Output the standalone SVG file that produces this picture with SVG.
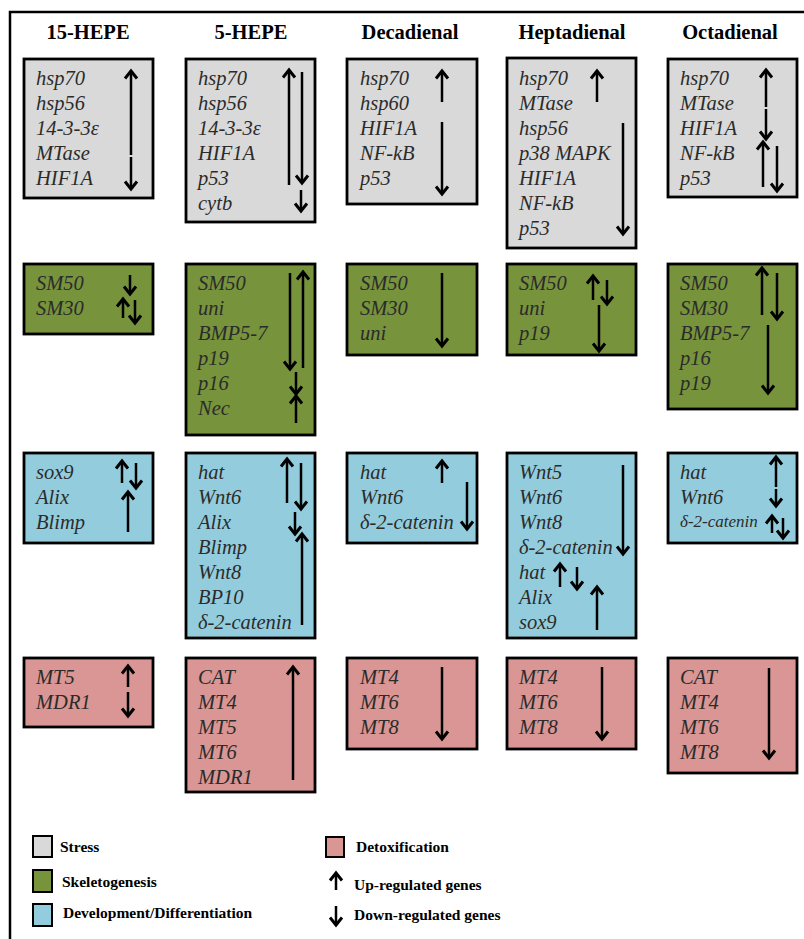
<svg xmlns="http://www.w3.org/2000/svg" width="804" height="939" viewBox="0 0 804 939">
<style>
.hdr{font-family:"Liberation Serif","DejaVu Serif",serif;font-weight:bold;font-size:20.5px;fill:#000;text-anchor:middle}
.g{font-family:"Liberation Serif","DejaVu Serif",serif;font-style:italic;font-size:20.5px;fill:#2b2b2b}
.sm{font-size:17px}
.lg{font-family:"Liberation Serif","DejaVu Serif",serif;font-weight:bold;font-size:15.5px;fill:#000}
.box{stroke:#000;stroke-width:2.8}
.st{fill:#d9d9d9}.sk{fill:#77933c}.dv{fill:#93cddd}.dx{fill:#d99694}
.ar{stroke:#000;stroke-width:2.5;fill:none;marker-end:url(#ah)}
.sw{stroke:#000;stroke-width:2}
</style>
<defs>
<marker id="ah" markerUnits="userSpaceOnUse" viewBox="-10 -8 12 16" markerWidth="12" markerHeight="16" refX="-1" refY="0" orient="auto" overflow="visible">
<path d="M-7.5,-6 L0,0 L-7.5,6" fill="none" stroke="#000" stroke-width="3"/>
</marker>
</defs>
<rect width="804" height="939" fill="#fff"/>
<path d="M10,939 V12 H804" fill="none" stroke="#000" stroke-width="2.5"/>
<g id="headers">
<text class="hdr" x="88" y="39">15-HEPE</text>
<text class="hdr" x="251" y="39">5-HEPE</text>
<text class="hdr" x="410" y="39">Decadienal</text>
<text class="hdr" x="572" y="39">Heptadienal</text>
<text class="hdr" x="730" y="39">Octadienal</text>
</g>
<!-- Stress -->
<g id="stress-15HEPE">
<rect class="box st" x="24" y="59" width="129" height="139"/>
<text class="g" x="36" y="85">hsp70</text><text class="g" x="36" y="110">hsp56</text><text class="g" x="36" y="135">14-3-3ε</text><text class="g" x="36" y="160">MTase</text><text class="g" x="36" y="185">HIF1A</text>
<line class="ar" x1="131" y1="155" x2="131" y2="72"/><line class="ar" x1="131" y1="157" x2="131" y2="188"/>
</g>
<g id="stress-5HEPE">
<rect class="box st" x="186" y="59" width="129" height="163"/>
<text class="g" x="198" y="85">hsp70</text><text class="g" x="198" y="110">hsp56</text><text class="g" x="198" y="135">14-3-3ε</text><text class="g" x="198" y="160">HIF1A</text><text class="g" x="198" y="185">p53</text><text class="g" x="198" y="210">cytb</text>
<line class="ar" x1="289" y1="185" x2="289" y2="71"/><line class="ar" x1="302" y1="72" x2="302" y2="182"/><line class="ar" x1="301" y1="190" x2="301" y2="210"/>
</g>
<g id="stress-Decadienal">
<rect class="box st" x="347" y="59" width="130" height="145"/>
<text class="g" x="360" y="85">hsp70</text><text class="g" x="360" y="110">hsp60</text><text class="g" x="360" y="135">HIF1A</text><text class="g" x="360" y="160">NF-kB</text><text class="g" x="360" y="185">p53</text>
<line class="ar" x1="442" y1="102" x2="442" y2="72"/><line class="ar" x1="442" y1="122" x2="442" y2="193"/>
</g>
<g id="stress-Heptadienal">
<rect class="box st" x="507" y="58" width="129" height="190"/>
<text class="g" x="519" y="85">hsp70</text><text class="g" x="519" y="110">MTase</text><text class="g" x="519" y="135">hsp56</text><text class="g" x="519" y="160">p38 MAPK</text><text class="g" x="519" y="185">HIF1A</text><text class="g" x="519" y="210">NF-kB</text><text class="g" x="519" y="235">p53</text>
<line class="ar" x1="597" y1="102" x2="597" y2="72"/><line class="ar" x1="623" y1="123" x2="623" y2="233"/>
</g>
<g id="stress-Octadienal">
<rect class="box st" x="668" y="59" width="129" height="138"/>
<text class="g" x="680" y="85">hsp70</text><text class="g" x="680" y="110">MTase</text><text class="g" x="680" y="135">HIF1A</text><text class="g" x="680" y="160">NF-kB</text><text class="g" x="680" y="185">p53</text>
<line class="ar" x1="766" y1="107" x2="766" y2="71"/><line class="ar" x1="766" y1="109" x2="766" y2="138"/><line class="ar" x1="763" y1="187" x2="763" y2="143"/><line class="ar" x1="777" y1="146" x2="777" y2="190"/>
</g>
<!-- Skeletogenesis -->
<g id="skel-15HEPE">
<rect class="box sk" x="24" y="264" width="129" height="70"/>
<text class="g" x="36" y="290">SM50</text><text class="g" x="36" y="315">SM30</text>
<line class="ar" x1="130" y1="275" x2="130" y2="293"/><line class="ar" x1="123" y1="318" x2="123" y2="300"/><line class="ar" x1="135" y1="300" x2="135" y2="322"/>
</g>
<g id="skel-5HEPE">
<rect class="box sk" x="186" y="264" width="129" height="171"/>
<text class="g" x="198" y="290">SM50</text><text class="g" x="198" y="315">uni</text><text class="g" x="198" y="340">BMP5-7</text><text class="g" x="198" y="365">p19</text><text class="g" x="198" y="390">p16</text><text class="g" x="198" y="415">Nec</text>
<line class="ar" x1="290" y1="273" x2="290" y2="368"/><line class="ar" x1="303" y1="368" x2="303" y2="273"/><line class="ar" x1="296" y1="372" x2="296" y2="393"/><line class="ar" x1="296" y1="423" x2="296" y2="397"/>
</g>
<g id="skel-Decadienal">
<rect class="box sk" x="347" y="264" width="130" height="91"/>
<text class="g" x="360" y="290">SM50</text><text class="g" x="360" y="315">SM30</text><text class="g" x="360" y="340">uni</text>
<line class="ar" x1="442" y1="273" x2="442" y2="345"/>
</g>
<g id="skel-Heptadienal">
<rect class="box sk" x="507" y="264" width="129" height="91"/>
<text class="g" x="519" y="290">SM50</text><text class="g" x="519" y="315">uni</text><text class="g" x="519" y="340">p19</text>
<line class="ar" x1="593" y1="300" x2="593" y2="277"/><line class="ar" x1="607" y1="280" x2="607" y2="303"/><line class="ar" x1="599" y1="305" x2="599" y2="350"/>
</g>
<g id="skel-Octadienal">
<rect class="box sk" x="668" y="264" width="129" height="145"/>
<text class="g" x="680" y="290">SM50</text><text class="g" x="680" y="315">SM30</text><text class="g" x="680" y="340">BMP5-7</text><text class="g" x="680" y="365">p16</text><text class="g" x="680" y="390">p19</text>
<line class="ar" x1="762" y1="315" x2="762" y2="269"/><line class="ar" x1="777" y1="273" x2="777" y2="318"/><line class="ar" x1="768" y1="325" x2="768" y2="392"/>
</g>
<!-- Development/Differentiation -->
<g id="dev-15HEPE">
<rect class="box dv" x="24" y="453" width="129" height="90"/>
<text class="g" x="36" y="479">sox9</text><text class="g" x="36" y="504">Alix</text><text class="g" x="36" y="529">Blimp</text>
<line class="ar" x1="122" y1="483" x2="122" y2="462"/><line class="ar" x1="136" y1="463" x2="136" y2="487"/><line class="ar" x1="128" y1="532" x2="128" y2="493"/>
</g>
<g id="dev-5HEPE">
<rect class="box dv" x="186" y="453" width="129" height="185"/>
<text class="g" x="198" y="479">hat</text><text class="g" x="198" y="504">Wnt6</text><text class="g" x="198" y="529">Alix</text><text class="g" x="198" y="554">Blimp</text><text class="g" x="198" y="579">Wnt8</text><text class="g" x="198" y="604">BP10</text><text class="g" x="198" y="629">δ-2-catenin</text>
<line class="ar" x1="287" y1="503" x2="287" y2="460"/><line class="ar" x1="301" y1="463" x2="301" y2="508"/><line class="ar" x1="295" y1="512" x2="295" y2="533"/><line class="ar" x1="302" y1="625" x2="302" y2="535"/>
</g>
<g id="dev-Decadienal">
<rect class="box dv" x="347" y="453" width="130" height="90"/>
<text class="g" x="360" y="479">hat</text><text class="g" x="360" y="504">Wnt6</text><text class="g" x="360" y="529">δ-2-catenin</text>
<line class="ar" x1="442" y1="483" x2="442" y2="462"/><line class="ar" x1="467" y1="482" x2="467" y2="528"/>
</g>
<g id="dev-Heptadienal">
<rect class="box dv" x="507" y="453" width="129" height="185"/>
<text class="g" x="519" y="479">Wnt5</text><text class="g" x="519" y="504">Wnt6</text><text class="g" x="519" y="529">Wnt8</text><text class="g" x="519" y="554">δ-2-catenin</text><text class="g" x="519" y="579">hat</text><text class="g" x="519" y="604">Alix</text><text class="g" x="519" y="629">sox9</text>
<line class="ar" x1="623" y1="465" x2="623" y2="553"/><line class="ar" x1="560" y1="587" x2="560" y2="565"/><line class="ar" x1="577" y1="567" x2="577" y2="588"/><line class="ar" x1="597" y1="630" x2="597" y2="588"/>
</g>
<g id="dev-Octadienal">
<rect class="box dv" x="668" y="453" width="129" height="90"/>
<text class="g" x="680" y="479">hat</text><text class="g" x="680" y="504">Wnt6</text><text class="g sm" x="680" y="527">δ-2-catenin</text>
<line class="ar" x1="776" y1="487" x2="776" y2="458"/><line class="ar" x1="776" y1="489" x2="776" y2="505"/><line class="ar" x1="772" y1="533" x2="772" y2="517"/><line class="ar" x1="783" y1="518" x2="783" y2="537"/>
</g>
<!-- Detoxification -->
<g id="detox-15HEPE">
<rect class="box dx" x="24" y="658" width="129" height="69"/>
<text class="g" x="36" y="684">MT5</text><text class="g" x="36" y="709">MDR1</text>
<line class="ar" x1="128" y1="687" x2="128" y2="667"/><line class="ar" x1="128" y1="692" x2="128" y2="715"/>
</g>
<g id="detox-5HEPE">
<rect class="box dx" x="186" y="658" width="129" height="134"/>
<text class="g" x="198" y="684">CAT</text><text class="g" x="198" y="709">MT4</text><text class="g" x="198" y="734">MT5</text><text class="g" x="198" y="759">MT6</text><text class="g" x="198" y="784">MDR1</text>
<line class="ar" x1="293" y1="780" x2="293" y2="668"/>
</g>
<g id="detox-Decadienal">
<rect class="box dx" x="347" y="658" width="130" height="91"/>
<text class="g" x="360" y="684">MT4</text><text class="g" x="360" y="709">MT6</text><text class="g" x="360" y="734">MT8</text>
<line class="ar" x1="442" y1="667" x2="442" y2="738"/>
</g>
<g id="detox-Heptadienal">
<rect class="box dx" x="507" y="658" width="129" height="91"/>
<text class="g" x="519" y="684">MT4</text><text class="g" x="519" y="709">MT6</text><text class="g" x="519" y="734">MT8</text>
<line class="ar" x1="602" y1="667" x2="602" y2="738"/>
</g>
<g id="detox-Octadienal">
<rect class="box dx" x="668" y="658" width="129" height="115"/>
<text class="g" x="680" y="684">CAT</text><text class="g" x="680" y="709">MT4</text><text class="g" x="680" y="734">MT6</text><text class="g" x="680" y="759">MT8</text>
<line class="ar" x1="769" y1="668" x2="769" y2="757"/>
</g>
<!-- Legend -->
<g id="legend">
<rect class="sw st" x="33" y="836" width="19" height="21"/><text class="lg" x="60" y="852">Stress</text>
<rect class="sw sk" x="33" y="870" width="19" height="22"/><text class="lg" x="62" y="887">Skeletogenesis</text>
<rect class="sw dv" x="33" y="904" width="19" height="22"/><text class="lg" x="63" y="918">Development/Differentiation</text>
<rect class="sw dx" x="326" y="837" width="18" height="20"/><text class="lg" x="356" y="852">Detoxification</text>
<line class="ar" x1="336" y1="890" x2="336" y2="874"/><text class="lg" x="354" y="890">Up-regulated genes</text>
<line class="ar" x1="336" y1="906" x2="336" y2="924"/><text class="lg" x="354" y="920">Down-regulated genes</text>
</g>
</svg>
